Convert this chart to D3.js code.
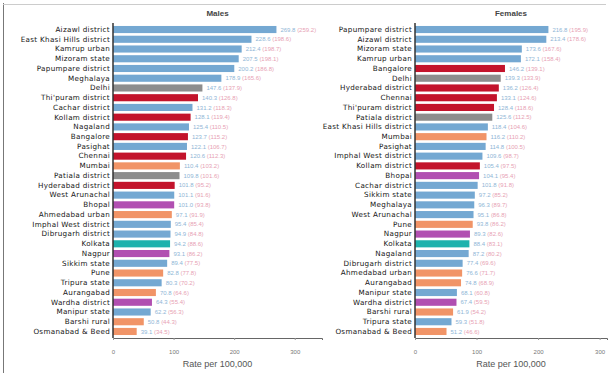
<!DOCTYPE html>
<html><head><meta charset="utf-8">
<script src="https://cdn.jsdelivr.net/npm/d3@7"></script>
<style>html,body{margin:0;padding:0;background:#fff;}svg{display:block;font-family:"Liberation Sans",Arial,sans-serif;}</style>
</head><body><svg id="c" width="609" height="376"></svg>
<script>
const maleNames = ["Aizawl district","East Khasi Hills district","Kamrup urban","Mizoram state","Papumpare district","Meghalaya","Delhi","Thi'puram district","Cachar district","Kollam district","Nagaland","Bangalore","Pasighat","Chennai","Mumbai","Patiala district","Hyderabad district","West Arunachal","Bhopal","Ahmedabad urban","Imphal West district","Dibrugarh district","Kolkata","Nagpur","Sikkim state","Pune","Tripura state","Aurangabad","Wardha district","Manipur state","Barshi rural","Osmanabad & Beed"];
const maleRates = [269.8,228.6,212.4,207.5,200.2,178.9,147.6,140.3,131.2,128.1,125.4,123.7,122.1,120.6,110.4,109.8,101.8,101.1,101.0,97.1,95.4,94.9,94.2,93.1,89.4,82.8,80.3,70.8,64.3,62.2,50.8,39.1];
const maleCI = [259.2,198.6,198.7,198.1,186.8,165.6,137.9,126.8,118.3,119.4,110.5,115.2,106.7,112.3,103.2,101.6,95.2,91.6,93.8,91.9,85.4,84.8,88.6,86.2,77.5,77.8,70.2,64.6,55.4,56.3,44.3,34.5];
const femaleNames = ["Papumpare district","Aizawl district","Mizoram state","Kamrup urban","Bangalore","Delhi","Hyderabad district","Chennai","Thi'puram district","Patiala district","East Khasi Hills district","Mumbai","Pasighat","Imphal West district","Kollam district","Bhopal","Cachar district","Sikkim state","Meghalaya","West Arunachal","Pune","Nagpur","Kolkata","Nagaland","Dibrugarh district","Ahmedabad urban","Aurangabad","Manipur state","Wardha district","Barshi rural","Tripura state","Osmanabad & Beed"];
const femaleRates = [216.8,213.4,173.6,172.1,146.2,139.3,136.2,133.1,128.4,125.6,118.4,116.2,114.8,109.6,105.4,104.1,101.8,97.2,96.3,95.1,93.8,89.3,88.4,87.2,77.4,76.6,74.8,68.1,67.4,61.9,59.3,51.2];
const femaleCI = [195.9,178.6,167.6,158.4,139.1,133.9,126.4,124.6,118.6,112.5,104.6,110.2,100.5,98.7,97.5,95.4,91.8,85.2,89.7,86.8,86.2,82.6,83.1,80.2,69.6,71.7,68.9,60.8,59.5,54.2,51.8,46.6];
const xTicks = [0,100,200,300];
const groupOf = {
  blue:["Aizawl district","East Khasi Hills district","Kamrup urban","Mizoram state","Papumpare district","Meghalaya","Cachar district","Nagaland","Pasighat","West Arunachal","Imphal West district","Dibrugarh district","Sikkim state","Tripura state","Manipur state"],
  gray:["Delhi","Patiala district"],
  red:["Thi'puram district","Kollam district","Bangalore","Chennai","Hyderabad district"],
  orange:["Mumbai","Ahmedabad urban","Pune","Aurangabad","Barshi rural","Osmanabad & Beed"],
  purple:["Bhopal","Nagpur","Wardha district"],
  teal:["Kolkata"]
};
const groupColor = {blue:"#74a8d2",gray:"#8d8d8d",red:"#c3132b",orange:"#f19467",purple:"#b14fb1",teal:"#1eb2ad"};
function colorFor(n){for(const g in groupOf){if(groupOf[g].includes(n))return groupColor[g];}return "#999";}

const svg = d3.select("#c");
svg.append("line").attr("x1",3.5).attr("x2",3.5).attr("y1",3).attr("y2",373).attr("stroke","#777").attr("stroke-width",1);
svg.append("line").attr("x1",3).attr("x2",606).attr("y1",4.5).attr("y2",4.5).attr("stroke","#ccc").attr("stroke-width",1);

function panel(title, names, rates, ci, x0, x1, dmax){
  const g = svg.append("g");
  const x = d3.scaleLinear().domain([0,dmax]).range([x0,x1]);
  const y = d3.scaleBand().domain(names).range([25,336]).paddingInner(0.27).paddingOuter(0.1);
  const data = names.map((n,i)=>({n, v:rates[i], c:ci[i]}));
  g.selectAll("rect.bar").data(data).join("rect").attr("class","bar")
    .attr("x",x(0)).attr("y",d=>y(d.n)).attr("width",d=>x(d.v)-x(0)).attr("height",y.bandwidth())
    .attr("fill",d=>colorFor(d.n));
  const lab = g.selectAll("text.val").data(data).join("text").attr("class","val")
    .attr("x",d=>x(d.v)+4).attr("y",d=>y(d.n)+y.bandwidth()/2).attr("dy","0.35em")
    .attr("font-size",6);
  lab.append("tspan").attr("fill","#8fb6d6").text(d=>d.v.toFixed(1)+" ");
  lab.append("tspan").attr("fill","#e79fb4").text(d=>"("+d.c.toFixed(1)+")");
  const ya = g.append("g").attr("transform",`translate(${x0},0)`).call(d3.axisLeft(y).tickSize(0).tickPadding(3));
  ya.select(".domain").remove();
  ya.selectAll("text").attr("font-size",7.2).attr("letter-spacing",0.3).attr("fill","#151515").attr("font-family","DejaVu Sans, Verdana, sans-serif");
  g.append("line").attr("x1",x0).attr("x2",x0).attr("y1",23).attr("y2",338).attr("stroke","#333").attr("stroke-width",1.5);
  const xa = g.append("g").attr("transform","translate(0,338)").call(d3.axisBottom(x).tickValues(xTicks).tickSize(2).tickPadding(10));
  xa.select(".domain").attr("stroke","#666");
  xa.selectAll("line").attr("stroke","#999");
  xa.selectAll("text").attr("font-size",6).attr("fill","#777").attr("font-family","Liberation Sans, Arial, sans-serif");
  g.append("text").attr("x",(x0+x1)/2).attr("y",16).attr("text-anchor","middle").attr("font-size",8).attr("font-weight","bold").attr("fill","#444").text(title);
  g.append("text").attr("x",(x0+x1)/2).attr("y",367).attr("text-anchor","middle").attr("font-size",9).attr("fill","#555").text("Rate per 100,000");
}
panel("Males", maleNames, maleRates, maleCI, 113, 322, 345);
panel("Females", femaleNames, femaleRates, femaleCI, 415, 607, 312);
</script></body></html>
